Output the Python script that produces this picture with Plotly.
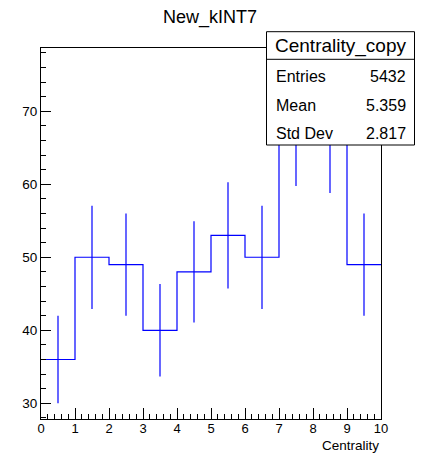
import numpy as np
import plotly.graph_objects as go

bin_edges = [0, 1, 2, 3, 4, 5, 6, 7, 8, 9, 10]
bin_counts = [36, 50, 49, 40, 48, 53, 50, 68, 67, 49]
hist_title = "New_kINT7"
x_title = "Centrality"
stats_name = "Centrality_copy"
stats_labels = ["Entries", "Mean", "Std Dev"]
stats_values = ["5432", "5.359", "2.817"]

centers = [(bin_edges[i] + bin_edges[i + 1]) / 2 for i in range(len(bin_counts))]
errors = [float(np.sqrt(c)) for c in bin_counts]

OFF = 8  # page body margin
W, H = 423 - OFF, 455 - OFF
# plot area in window pixels
L, R, T, B = 41, 381, 48, 419
FONT = "Liberation Sans, Arial, Helvetica, sans-serif"

def px(x):
    return (x - L) / (R - L)

def py(y):
    return (B - y) / (B - T)

fig = go.Figure()
fig.add_trace(go.Scatter(
    x=bin_edges, y=bin_counts + [bin_counts[-1]],
    mode="lines", line=dict(color="#0000ff", width=1.2, shape="hv"),
    hoverinfo="skip", showlegend=False))
fig.add_trace(go.Scatter(
    x=centers, y=bin_counts, mode="markers",
    marker=dict(size=0.1, color="#0000ff"),
    error_y=dict(type="data", array=errors, visible=True, color="#0000ff",
                 thickness=1.2, width=0),
    showlegend=False))

axis_common = dict(showline=True, linecolor="black", linewidth=1, mirror=True,
                   showgrid=False, zeroline=False, ticks="inside", tickcolor="black")

fig.update_xaxes(range=[0, 10], dtick=1, tick0=0, ticklen=11, ticklabelstandoff=-3,
                 tickfont=dict(family=FONT, size=13, color="black"),
                 minor=dict(dtick=0.2, tick0=0, ticks="inside", ticklen=5, tickcolor="black"),
                 **axis_common)
fig.update_yaxes(range=[27.85, 78.66], dtick=10, tick0=0, ticklen=10,
                 tickfont=dict(family=FONT, size=13.5, color="black"),
                 minor=dict(dtick=2, tick0=0, ticks="inside", ticklen=5, tickcolor="black"),
                 **axis_common)

shapes = [
    dict(type="rect", xref="paper", yref="paper",
         x0=px(266.5), x1=px(414.5), y0=py(145), y1=py(31.7),
         line=dict(color="black", width=1), fillcolor="white", layer="above"),
    dict(type="line", xref="paper", yref="paper",
         x0=px(266.5), x1=px(414.5), y0=py(59.3), y1=py(59.3),
         line=dict(color="black", width=1), layer="above"),
]

annotations = [
    dict(text=stats_name, xref="paper", yref="paper", x=px(340.7), y=py(45.7),
         xanchor="center", yanchor="middle", showarrow=False,
         font=dict(family=FONT, size=19, color="black")),
    dict(text=x_title, xref="paper", yref="paper", x=1, y=py(445),
         xanchor="right", yanchor="middle", showarrow=False,
         font=dict(family=FONT, size=13.5, color="black")),
]
rows_y = [76.7, 105, 133.3]
for lab, val, yy in zip(stats_labels, stats_values, rows_y):
    annotations.append(dict(text=lab, xref="paper", yref="paper", x=px(273.5), y=py(yy),
                            xanchor="left", yanchor="middle", showarrow=False,
                            font=dict(family=FONT, size=16, color="black")))
    annotations.append(dict(text=val, xref="paper", yref="paper", x=px(407.5), y=py(yy),
                            xanchor="right", yanchor="middle", showarrow=False,
                            font=dict(family=FONT, size=16, color="black")))

fig.update_layout(
    width=W, height=H,
    margin=dict(l=L - OFF, r=W - (R - OFF), t=T - OFF, b=H - (B - OFF)),
    paper_bgcolor="white", plot_bgcolor="white",
    title=dict(text=hist_title, x=px(210), xref="paper", y=1 - (17 - OFF) / H, yref="container",
               xanchor="center", yanchor="middle",
               font=dict(family=FONT, size=18, color="black")),
    shapes=shapes, annotations=annotations, showlegend=False,
)

fig.write_html("out.html")
